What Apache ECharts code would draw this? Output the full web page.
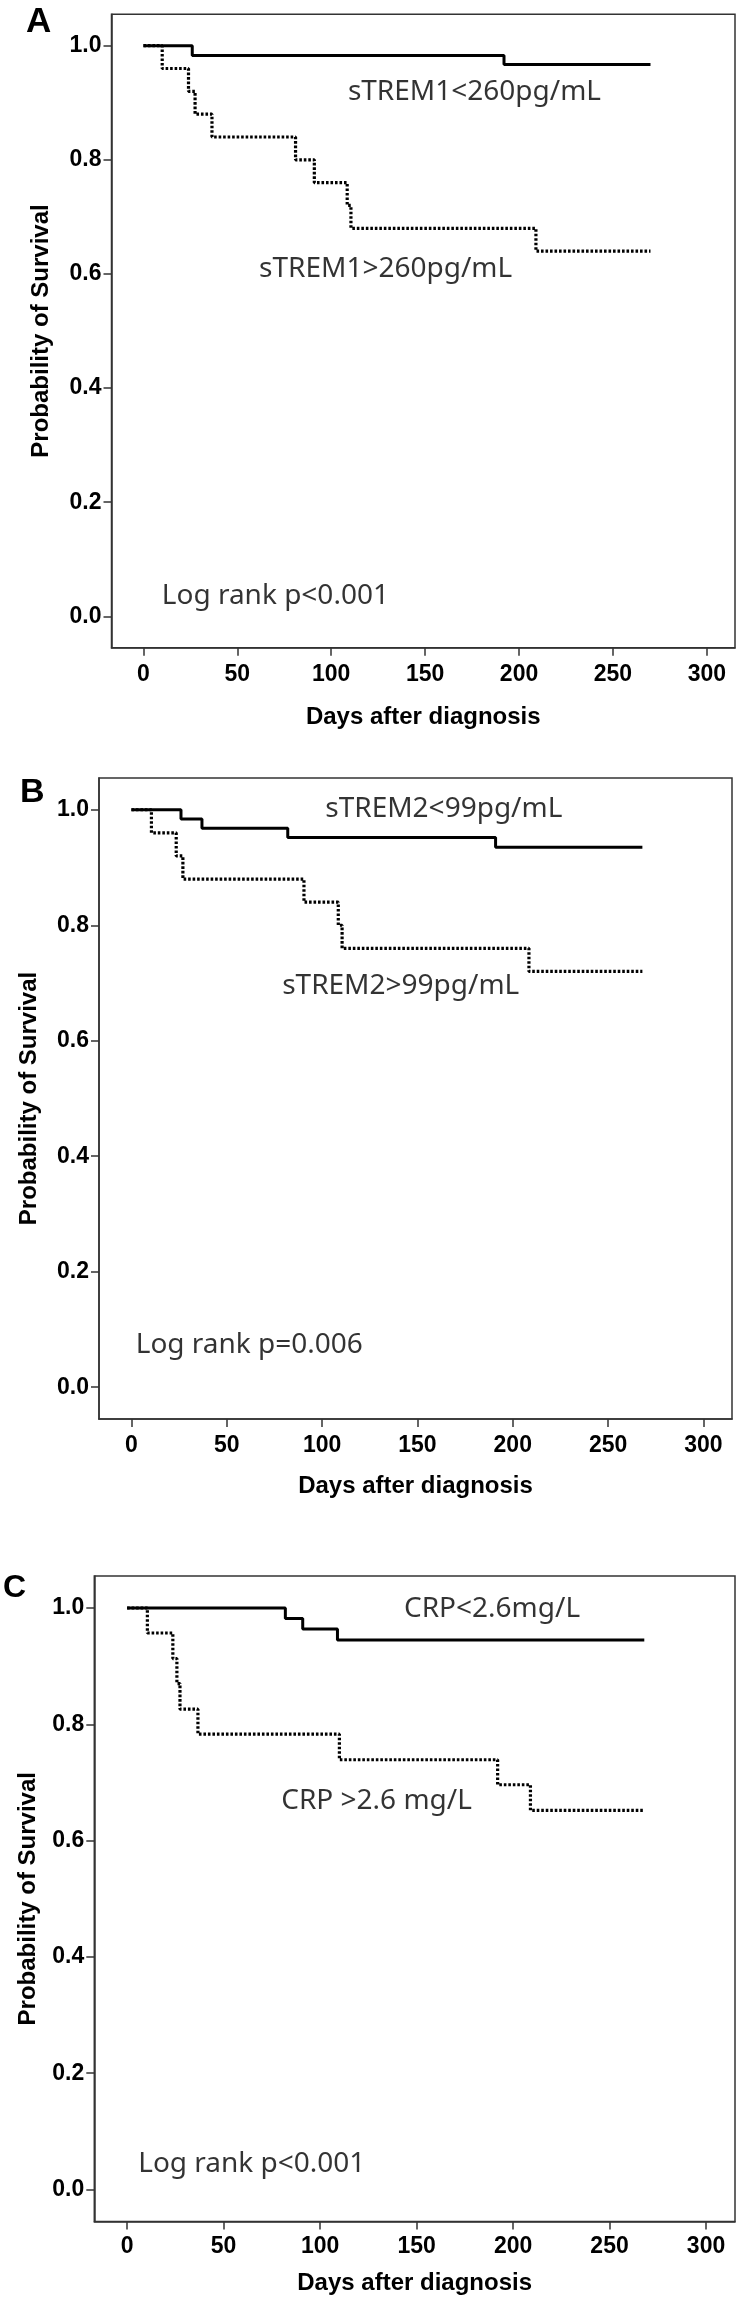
<!DOCTYPE html>
<html><head><meta charset="utf-8">
<script src="https://cdn.jsdelivr.net/npm/echarts@6/dist/echarts.min.js"></script>
<style>html,body{margin:0;padding:0;background:#fff}#c{width:744px;height:2300px}</style>
</head><body><div id="c"></div>
<script>
// ---- data ----
const dayTicks = [0, 50, 100, 150, 200, 250, 300];
const survTicks = [0, 0.2, 0.4, 0.6, 0.8, 1.0];

// Panel A
const aLowDays  = [0, 26, 192, 270];
const aLowSurv  = [1, 0.983, 0.967, 0.967];
const aHighDays = [0, 10, 24, 27.5, 36.5, 81, 91, 108.5, 110.5, 209, 270];
const aHighSurv = [1, 0.96, 0.92, 0.88, 0.84, 0.80, 0.76, 0.72, 0.68, 0.64, 0.64];
const aLabels = ['sTREM1<260pg/mL', 'sTREM1>260pg/mL', 'Log rank p<0.001'];

// Panel B
const bLowDays  = [0, 26, 37, 82, 191, 268];
const bLowSurv  = [1, 0.984, 0.968, 0.952, 0.935, 0.935];
const bHighDays = [0, 10.5, 23.5, 27, 90.5, 108.5, 110.5, 208.5, 268];
const bHighSurv = [1, 0.96, 0.92, 0.88, 0.84, 0.80, 0.76, 0.72, 0.72];
const bLabels = ['sTREM2<99pg/mL', 'sTREM2>99pg/mL', 'Log rank p=0.006'];

// Panel C
const cLowDays  = [0, 82, 91, 109, 268];
const cLowSurv  = [1, 0.982, 0.964, 0.945, 0.945];
const cHighDays = [0, 10.5, 23.7, 25.8, 27.4, 36.7, 110, 192, 209, 268];
const cHighSurv = [1, 0.957, 0.913, 0.870, 0.826, 0.783, 0.739, 0.696, 0.652, 0.652];
const cLabels = ['CRP<2.6mg/L', 'CRP >2.6 mg/L', 'Log rank p<0.001'];

const panelLetters = ['A', 'B', 'C'];
const xTitle = 'Days after diagnosis';
const yTitle = 'Probability of Survival';

// ---- layout / styling ----
const zip = (xs, ys) => xs.map((x, i) => [x, ys[i]]);
const panels = [
  { grid: {left: 111.5, top: 14.3, width: 623.5, height: 633.4},
    low: zip(aLowDays, aLowSurv), high: zip(aHighDays, aHighSurv), labels: aLabels,
    labelPos: [[108.6, 0.919], [61.3, 0.608], [9.5, 0.036]],
    xGap: 57.5, yGap: 58.5, xLabelMargin: 15.5, letter: {x: 26, y: 5, size: 35} },
  { grid: {left: 99, top: 778, width: 633, height: 641},
    low: zip(bLowDays, bLowSurv), high: zip(bHighDays, bHighSurv), labels: bLabels,
    labelPos: [[101.4, 1.002], [78.8, 0.694], [2.0, 0.073]],
    xGap: 55, yGap: 57.5, xLabelMargin: 15.5, letter: {x: 20, y: 776, size: 34} },
  { grid: {left: 94.3, top: 1576, width: 640.7, height: 645.5},
    low: zip(cLowDays, cLowSurv), high: zip(cHighDays, cHighSurv), labels: cLabels,
    labelPos: [[143.2, 0.998], [79.6, 0.668], [5.5, 0.044]],
    xGap: 50, yGap: 53.5, xLabelMargin: 13.5, letter: {x: 3, y: 1572, size: 32} }
];

const axisColor = '#333';
const tickFont = {fontFamily: 'Liberation Sans, Arial, sans-serif', fontWeight: 'bold', fontSize: 23, color: '#000'};
const titleFont = {fontFamily: 'Liberation Sans, Arial, sans-serif', fontWeight: 'bold', fontSize: 24, color: '#000'};

const option = {
  backgroundColor: '#fff',
  animation: false,
  grid: [], xAxis: [], yAxis: [], series: [], graphic: []
};

panels.forEach((p, i) => {
  option.grid.push(Object.assign({show: true, borderColor: axisColor, borderWidth: 1.5, backgroundColor: 'transparent'}, p.grid));
  option.xAxis.push({
    type: 'value', gridIndex: i, min: -17, max: 315,
    splitLine: {show: false},
    axisLine: {show: true, onZero: false, lineStyle: {color: axisColor, width: 1.5}},
    axisTick: {show: true, inside: false, length: 8, customValues: dayTicks, lineStyle: {color: axisColor, width: 1.5}},
    axisLabel: Object.assign({show: true, margin: p.xLabelMargin, customValues: dayTicks, formatter: v => String(v)}, tickFont),
    name: xTitle, nameLocation: 'middle', nameGap: p.xGap,
    nameTextStyle: Object.assign({}, titleFont)
  });
  option.yAxis.push({
    type: 'value', gridIndex: i, min: -0.055, max: 1.055,
    splitLine: {show: false},
    axisLine: {show: true, onZero: false, lineStyle: {color: axisColor, width: 1.5}},
    axisTick: {show: true, inside: false, length: 8, customValues: survTicks, lineStyle: {color: axisColor, width: 1.5}},
    axisLabel: Object.assign({show: true, margin: 10, customValues: survTicks, formatter: v => Number(v).toFixed(1)}, tickFont),
    name: yTitle, nameLocation: 'middle', nameGap: p.yGap, nameRotate: 90,
    nameTextStyle: Object.assign({}, titleFont)
  });
  option.series.push({
    type: 'line', xAxisIndex: i, yAxisIndex: i, step: 'end', showSymbol: false, symbol: 'none',
    data: p.low, lineStyle: {color: '#000', width: 3, type: 'solid'}, silent: true, z: 3
  });
  option.series.push({
    type: 'line', xAxisIndex: i, yAxisIndex: i, step: 'end', showSymbol: false, symbol: 'none',
    data: p.high, lineStyle: {color: '#000', width: 3.2, type: [2.6, 1.9]}, silent: true, z: 4
  });
  option.series.push({
    type: 'scatter', xAxisIndex: i, yAxisIndex: i, symbolSize: 1, silent: true, z: 5,
    itemStyle: {color: 'rgba(0,0,0,0)'},
    data: p.labels.map((t, k) => ({name: t, value: p.labelPos[k]})),
    label: {show: true, position: 'right', distance: 0, formatter: d => d.name,
            fontFamily: 'Noto Sans, DejaVu Sans, sans-serif', fontSize: 28, color: '#000'}
  });
  option.graphic.push({
    type: 'text', left: p.letter.x, top: p.letter.y,
    style: {text: panelLetters[i], fontFamily: 'Liberation Sans, Arial, sans-serif', fontWeight: 'bold', fontSize: p.letter.size, fill: '#000'}
  });
});

const chart = echarts.init(document.getElementById('c'), null, {renderer: 'canvas'});
chart.setOption(option);
</script></body></html>
